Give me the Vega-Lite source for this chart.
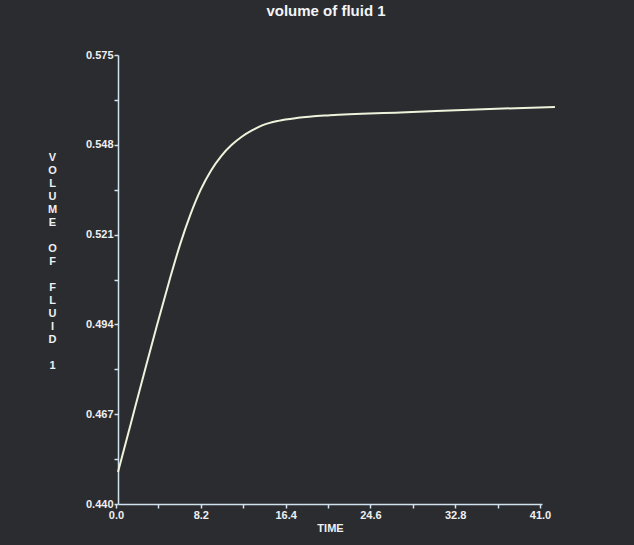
{
  "$schema": "https://vega.github.io/schema/vega-lite/v6.json",
  "width": 424,
  "height": 449,
  "autosize": {"type": "none"},
  "padding": {"left": 118, "top": 55, "right": 92, "bottom": 41},
  "background": "#2b2c2f",
  "title": {
    "text": "volume of fluid 1",
    "frame": "group",
    "anchor": "middle",
    "dx": -4,
    "offset": 30,
    "font": "Liberation Sans",
    "fontSize": 15,
    "fontWeight": "bold",
    "color": "#f2f4f6"
  },
  "config": {
    "view": {"stroke": null},
    "axis": {
      "grid": false,
      "domainColor": "#cfe2ee",
      "domainWidth": 1.5,
      "tickColor": "#cfe2ee",
      "tickWidth": 1.5,
      "labelFont": "Liberation Sans",
      "labelFontWeight": "bold",
      "labelFontSize": 11,
      "labelColor": "#eef0f2",
      "titleFont": "Liberation Sans",
      "titleFontWeight": "bold",
      "titleFontSize": 11,
      "titleColor": "#eef0f2"
    }
  },
  "data": {
    "values": [
      {"time": 0.0, "volume": 0.4496},
      {"time": 1.25, "volume": 0.4643},
      {"time": 2.5, "volume": 0.479},
      {"time": 3.75, "volume": 0.4935},
      {"time": 5.0, "volume": 0.5075},
      {"time": 6.0, "volume": 0.518},
      {"time": 7.0, "volume": 0.527},
      {"time": 8.0, "volume": 0.5345},
      {"time": 9.0, "volume": 0.5403},
      {"time": 10.0, "volume": 0.5447},
      {"time": 11.0, "volume": 0.548},
      {"time": 12.0, "volume": 0.5505},
      {"time": 13.0, "volume": 0.5524},
      {"time": 14.0, "volume": 0.5539},
      {"time": 15.5, "volume": 0.5552},
      {"time": 17.4, "volume": 0.5561},
      {"time": 20.5, "volume": 0.5569},
      {"time": 27.3, "volume": 0.5577},
      {"time": 35.3, "volume": 0.5587},
      {"time": 42.25, "volume": 0.5594}
    ]
  },
  "mark": {"type": "line", "color": "#eef3dc", "strokeWidth": 2, "interpolate": "monotone"},
  "encoding": {
    "x": {
      "field": "time",
      "type": "quantitative",
      "scale": {"domain": [0, 41], "nice": false, "zero": false},
      "axis": {
        "title": "TIME",
        "titlePadding": 2,
        "values": [0, 4.1, 8.2, 12.3, 16.4, 20.5, 24.6, 28.7, 32.8, 36.9, 41],
        "labelExpr": "abs(datum.value/8.2 - round(datum.value/8.2)) < 0.05 ? format(datum.value, '.1f') : ''",
        "tickSize": 4,
        "tickOffset": -2,
        "labelPadding": 1,
        "labelDx": 3,
        "labelFlush": false,
        "labelOverlap": false
      }
    },
    "y": {
      "field": "volume",
      "type": "quantitative",
      "scale": {"domain": [0.44, 0.575], "nice": false, "zero": false},
      "axis": {
        "title": ["V", "O", "L", "U", "M", "E", "\u200b", "O", "F", "\u200b", "F", "L", "U", "I", "D", "\u200b", "1"],
        "titleAngle": 0,
        "titleX": -66,
        "titleY": 96,
        "titleAlign": "center",
        "titleBaseline": "top",
        "titleLineHeight": 13,
        "values": [0.44, 0.4535, 0.467, 0.4805, 0.494, 0.5075, 0.521, 0.5345, 0.548, 0.5615, 0.575],
        "labelExpr": "abs((datum.value-0.44)/0.027 - round((datum.value-0.44)/0.027)) < 0.05 ? format(datum.value, '.3f') : ''",
        "tickSize": 4,
        "labelPadding": 1,
        "labelFlush": false,
        "labelOverlap": false
      }
    }
  }
}
